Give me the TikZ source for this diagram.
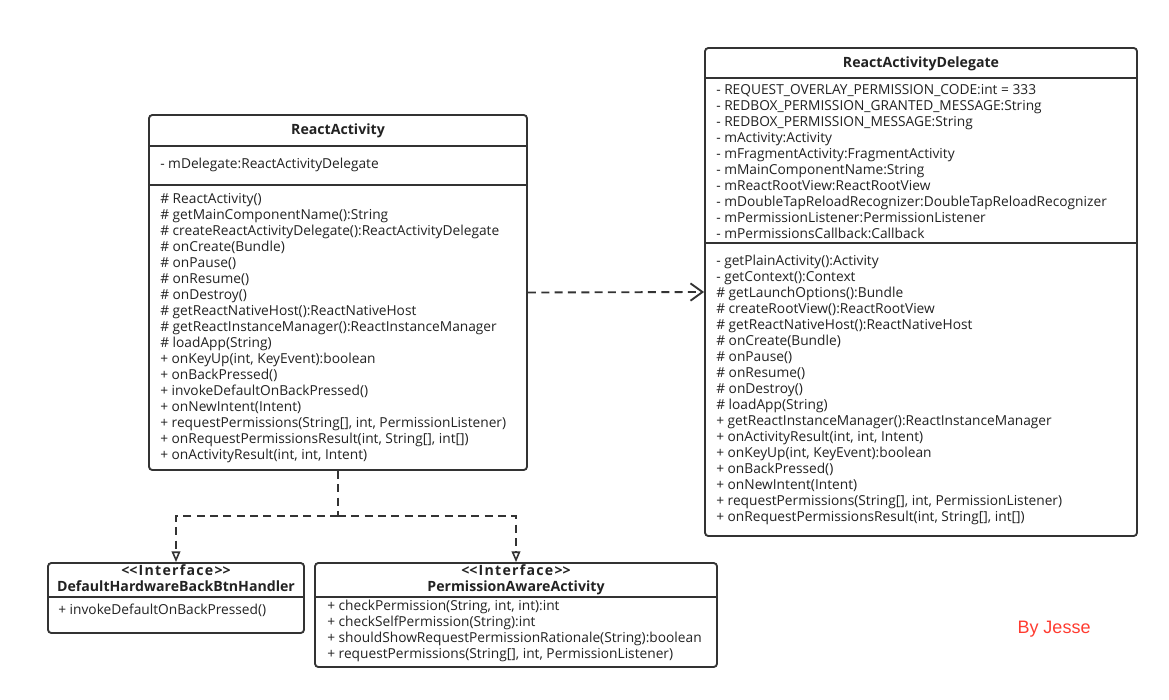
\documentclass[tikz,border=0pt]{standalone}
\usepackage{fontspec}
\setmainfont{Open Sans}
\newfontfamily\sigfont{Liberation Sans}
\usetikzlibrary{arrows.meta,fit}
\definecolor{ln}{HTML}{333333}
\definecolor{tx}{HTML}{222222}
\definecolor{sig}{HTML}{FF3B30}
\newcommand{\stereo}{{\addfontfeature{LetterSpace=9}\textless\kern0pt\textless Interface\textgreater\kern0pt\textgreater}}
\begin{document}
\begin{tikzpicture}[x=0.75pt,y=-0.75pt,
  umlbox/.style={draw=ln, line width=1.4pt, rounded corners=2.5pt, inner sep=0pt, fill=white},
  divider/.style={draw=ln, line width=1.4pt},
  members/.style={anchor=base west, inner sep=0pt, text=tx, font=\fontsize{10.3}{12}\selectfont},
  classtitle/.style={anchor=base, inner sep=0pt, text=tx, font=\fontsize{10.6}{12}\selectfont\bfseries},
  depline/.style={draw=ln, line width=1.4pt, dash pattern=on 6pt off 4pt},
  deptip/.style={-{Straight Barb[length=9pt,width=13pt,line width=1.4pt]}},
  realtip/.style={-{Triangle[open,length=8pt,width=6.5pt,line width=1.2pt,fill=white]}}
]
\useasboundingbox (0,0) rectangle (1169,699);

% ---------- ReactActivity ----------
\node[umlbox, fit={(149,115) (527,470)}] (ra) {};
\draw[divider] (ra.west |- 0,146) -- (ra.east |- 0,146);
\draw[divider] (ra.west |- 0,185) -- (ra.east |- 0,185);
\node[classtitle] (raname) at (338,134.5) {ReactActivity};
\node[members] (raattr) at (160,168) {- mDelegate:ReactActivityDelegate};
\node[members] (rameth) at (160,203.5) {\begin{tabular}[t]{@{}l@{}}
\# ReactActivity()\\
\# getMainComponentName():String\\
\# createReactActivityDelegate():ReactActivityDelegate\\
\# onCreate(Bundle)\\
\# onPause()\\
\# onResume()\\
\# onDestroy()\\
\# getReactNativeHost():ReactNativeHost\\
\# getReactInstanceManager():ReactInstanceManager\\
\# loadApp(String)\\
+ onKeyUp(int, KeyEvent):boolean\\
+ onBackPressed()\\
+ invokeDefaultOnBackPressed()\\
+ onNewIntent(Intent)\\
+ requestPermissions(String[], int, PermissionListener)\\
+ onRequestPermissionsResult(int, String[], int[])\\
+ onActivityResult(int, int, Intent)
\end{tabular}};

% ---------- ReactActivityDelegate ----------
\node[umlbox, fit={(705,48) (1137,536)}] (rad) {};
\draw[divider] (rad.west |- 0,78) -- (rad.east |- 0,78);
\draw[divider] (rad.west |- 0,243) -- (rad.east |- 0,243);
\node[classtitle] (radname) at (921,68) {ReactActivityDelegate};
\node[members] (radattr) at (716,94) {\begin{tabular}[t]{@{}l@{}}
- REQUEST\_OVERLAY\_PERMISSION\_CODE:int = 333\\
- REDBOX\_PERMISSION\_GRANTED\_MESSAGE:String\\
- REDBOX\_PERMISSION\_MESSAGE:String\\
- mActivity:Activity\\
- mFragmentActivity:FragmentActivity\\
- mMainComponentName:String\\
- mReactRootView:ReactRootView\\
- mDoubleTapReloadRecognizer:DoubleTapReloadRecognizer\\
- mPermissionListener:PermissionListener\\
- mPermissionsCallback:Callback
\end{tabular}};
\node[members] (radmeth) at (716,265.5) {\begin{tabular}[t]{@{}l@{}}
- getPlainActivity():Activity\\
- getContext():Context\\
\# getLaunchOptions():Bundle\\
\# createRootView():ReactRootView\\
\# getReactNativeHost():ReactNativeHost\\
\# onCreate(Bundle)\\
\# onPause()\\
\# onResume()\\
\# onDestroy()\\
\# loadApp(String)\\
+ getReactInstanceManager():ReactInstanceManager\\
+ onActivityResult(int, int, Intent)\\
+ onKeyUp(int, KeyEvent):boolean\\
+ onBackPressed()\\
+ onNewIntent(Intent)\\
+ requestPermissions(String[], int, PermissionListener)\\
+ onRequestPermissionsResult(int, String[], int[])
\end{tabular}};

% ---------- DefaultHardwareBackBtnHandler ----------
\node[umlbox, fit={(48,563) (304,633)}] (ih) {};
\draw[divider] (ih.west |- 0,597) -- (ih.east |- 0,597);
\node[classtitle] (ihster) at (176,575) {\stereo};
\node[classtitle] (ihname) at (176,591) {DefaultHardwareBackBtnHandler};
\node[members] (ihmeth) at (58,614) {+ invokeDefaultOnBackPressed()};

% ---------- PermissionAwareActivity ----------
\node[umlbox, fit={(315,563) (717,667)}] (ip) {};
\draw[divider] (ip.west |- 0,597) -- (ip.east |- 0,597);
\node[classtitle] (ipster) at (516,575) {\stereo};
\node[classtitle] (ipname) at (516,591) {PermissionAwareActivity};
\node[members] (ipmeth) at (327,610) {\begin{tabular}[t]{@{}l@{}}
+ checkPermission(String, int, int):int\\
+ checkSelfPermission(String):int\\
+ shouldShowRequestPermissionRationale(String):boolean\\
+ requestPermissions(String[], int, PermissionListener)
\end{tabular}};

% ---------- connectors ----------
\draw[depline, deptip] (ra.east) -- (rad.west);
\coordinate (split) at (ra.south |- 0,516);
\draw[depline] (ra.south) -- (split);
\draw[depline, realtip] (split) -| (ih.north);
\draw[depline, realtip] (split) -| (ip.north);

% ---------- signature ----------
\node[anchor=base, inner sep=0pt, text=sig, font=\sigfont\fontsize{13.5}{16}\selectfont] (sign) at (1054,633) {By Jesse};
\end{tikzpicture}
\end{document}
